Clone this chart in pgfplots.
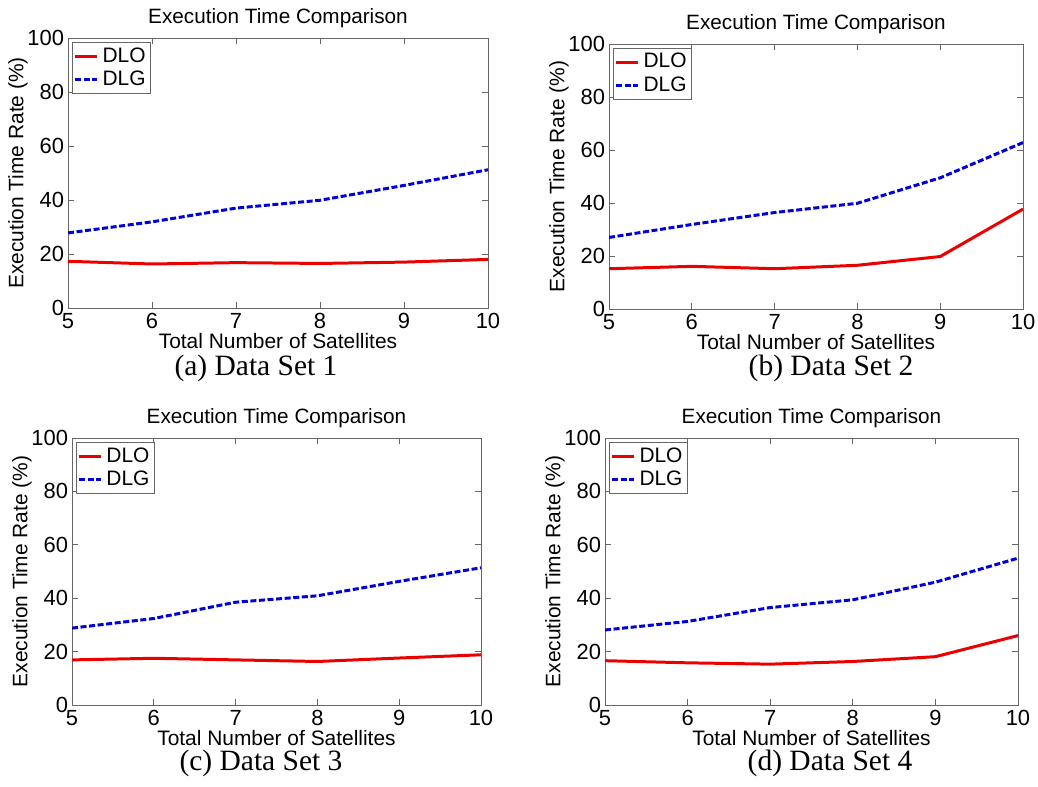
\documentclass[border=0pt]{standalone}
\usepackage{pgfplots}
\pgfplotsset{compat=1.18}
\usepackage{fontspec}
\setmainfont{Liberation Sans}
\newfontfamily\timesfont{Liberation Serif}

% x = number of satellites, y = execution time rate (%)
\pgfplotstableread{
n  dlo   dlg
5  17.3  27.8
6  16.3  31.9
7  16.8  37.0
8  16.5  39.9
9  17.0  45.4
10 18.0  51.2
}\dsA
\pgfplotstableread{
n  dlo   dlg
5  15.2  27.0
6  16.1  31.9
7  15.2  36.4
8  16.5  39.9
9  19.8  49.5
10 37.7  62.8
}\dsB
\pgfplotstableread{
n  dlo   dlg
5  16.9  28.8
6  17.5  32.4
7  16.9  38.5
8  16.3  40.9
9  17.6  46.3
10 18.8  51.4
}\dsC
\pgfplotstableread{
n  dlo   dlg
5  16.6  28.1
6  15.8  31.3
7  15.3  36.5
8  16.3  39.4
9  18.1  46.0
10 26.0  55.0
}\dsD

\pgfplotsset{
  satstyle/.style={
    scale only axis,
    xmin=5,xmax=10,ymin=0,ymax=100,
    xtick={5,6,7,8,9,10},ytick={0,20,40,60,80,100},
    tick align=inside,xtick pos=both,ytick pos=both,
    major tick length=3bp,
    axis line style={draw=black!60},
    every tick/.style={draw=black!60,line width=0.4pt},
    /pgf/number format/assume math mode=true,
    ticklabel style={font=\fontsize{11}{12}\selectfont},
    xticklabel style={inner sep=1bp,yshift=-1.5bp},
    yticklabel style={xshift=1.5bp},
    title style={font=\fontsize{10.4}{11}\selectfont,at={(0.5,1)},anchor=base,yshift=1.5bp},
    title={Execution Time Comparison},
    label style={font=\fontsize{10.5}{11}\selectfont},
    xlabel={Total Number of Satellites},
    ylabel={Execution Time Rate (\%)},
    xlabel style={at={(axis description cs:0.5,0)},anchor=center,yshift=-16.5bp,inner sep=1bp},
    ylabel style={yshift=-7bp},
    legend style={at={(0.01,0.985)},anchor=north west,draw=black!60,
      font=\fontsize{10.5}{11}\selectfont,inner sep=0.5bp,row sep=-1bp,
      cells={anchor=west}},
    legend image code/.code={\draw[#1] (0bp,0bp) -- (11bp,0bp);},
  },
}
\tikzset{
  dloline/.style={red!92!black,line width=1.5pt},
  dlgline/.style={blue!85!black,line width=1.5pt,dash pattern=on 3bp off 1.3bp},
  capt/.style={font=\timesfont\fontsize{14.8}{16}\selectfont,inner sep=0.5bp},
}

\begin{document}
\begin{tikzpicture}
\useasboundingbox (0,0) rectangle (519bp,-393.5bp);

\begin{axis}[satstyle,at={(34bp,-154bp)},anchor=south west,width=210bp,height=135bp]
\addplot[dloline] table[x=n,y=dlo] {\dsA};
\addlegendentry{DLO}
\addplot[dlgline] table[x=n,y=dlg] {\dsA};
\addlegendentry{DLG}
\end{axis}

\begin{axis}[satstyle,at={(304.5bp,-154.5bp)},anchor=south west,width=207bp,height=132.5bp]
\addplot[dloline] table[x=n,y=dlo] {\dsB};
\addlegendentry{DLO}
\addplot[dlgline] table[x=n,y=dlg] {\dsB};
\addlegendentry{DLG}
\end{axis}

\begin{axis}[satstyle,at={(36bp,-352.5bp)},anchor=south west,width=204.5bp,height=133.5bp]
\addplot[dloline] table[x=n,y=dlo] {\dsC};
\addlegendentry{DLO}
\addplot[dlgline] table[x=n,y=dlg] {\dsC};
\addlegendentry{DLG}
\end{axis}

\begin{axis}[satstyle,at={(302.5bp,-352.5bp)},anchor=south west,width=206.5bp,height=133.5bp]
\addplot[dloline] table[x=n,y=dlo] {\dsD};
\addlegendentry{DLO}
\addplot[dlgline] table[x=n,y=dlg] {\dsD};
\addlegendentry{DLG}
\end{axis}

\node[capt] at (128bp,-184bp) {(a) Data Set 1};
\node[capt] at (415.5bp,-184bp) {(b) Data Set 2};
\node[capt] at (130.5bp,-381.5bp) {(c) Data Set 3};
\node[capt] at (415bp,-381.5bp) {(d) Data Set 4};
\end{tikzpicture}
\end{document}
